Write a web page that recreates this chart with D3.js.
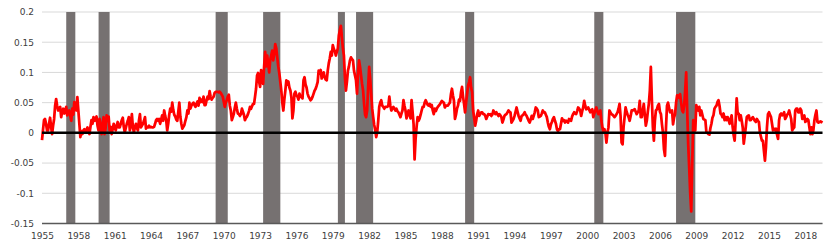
<!DOCTYPE html>
<html>
<head>
<meta charset="utf-8">
<script src="https://cdn.jsdelivr.net/npm/d3@7"></script>
<style>
  body { margin: 0; background: #fff; }
  text { font-family: "DejaVu Sans", Verdana, sans-serif; }
</style>
</head>
<body>
<div id="chart"></div>
<script>
// Monthly values, first point July 1955, last point December 2019
var infl1950s = [
  -.012, .005, .021, .023, .015, .004,
  .004, .015, .025, .010, -.002, .012, .023, .045, .056, .045, .037, .040,
  .043, .026, .035, .040, .032, .038, .043, .029, .033, .037, .028, .020,
  .040, .030, .051, .044, .037, .059, .037, .015, -.007, .003, -.002, .004,
  .006, .001, .005, .009, .003, -.002, .010, .021, .015, .026, .020, .023
];
var infl1960s = [
  .027, .012, .004, .023, .010, -.002, .015, .026, -.002, .008, .029, .020,
  .027, .004, .010, -.002, .006, .015, .010, .004, .012, .018, .009, .009,
  .015, .021, .025, .010, .001, .008, .015, .020, .026, .004, .012, .031,
  .010, .001, .009, .015, .008, .004, .020, .031, .009, .012, .015, .020,
  .026, .007, .010, .009, .012, .009, .010, .009, .009, .010, .015, .021,
  .023, .020, .023, .015, .022, .029, .020, .037, .028, .021, .004, .015,
  .030, .040, .035, .050, .038, .030, .027, .022, .020, .035, .050, .027,
  .015, .007, .010, .013, .020, .026, .037, .032, .050, .040, .045, .048,
  .050, .046, .043, .048, .052, .045, .058, .051, .055, .051, .060, .046,
  .046, .054, .060, .056, .069, .060, .055, .058, .060, .066, .068, .068
];
var infl1970s = [
  .068, .067, .068, .066, .063, .060, .052, .043, .050, .054, .060, .063,
  .045, .037, .021, .026, .032, .042, .050, .040, .032, .031, .028, .031,
  .040, .035, .030, .021, .025, .027, .031, .036, .043, .040, .044, .048,
  .048, .060, .073, .095, .099, .085, .076, .104, .090, .081, .110, .134,
  .110, .128, .115, .100, .120, .128, .136, .120, .130, .147, .140, .125,
  .110, .099, .085, .070, .050, .037, .055, .070, .087, .080, .085, .075,
  .070, .059, .024, .037, .065, .068, .062, .060, .055, .065, .060, .059,
  .057, .087, .092, .080, .075, .065, .060, .057, .054, .056, .060, .065,
  .070, .073, .078, .084, .103, .098, .104, .090, .095, .100, .092, .088,
  .087, .103, .115, .123, .134, .128, .145, .139, .135, .128, .134, .140
];
var infl1980s = [
  .161, .170, .177, .158, .140, .128, .092, .070, .085, .103, .110, .120,
  .125, .122, .120, .103, .095, .087, .065, .100, .120, .109, .095, .081,
  .070, .048, .030, .026, .037, .075, .109, .090, .065, .040, .026, .013,
  .005, -.007, .001, .020, .043, .050, .054, .045, .043, .040, .043, .043,
  .043, .045, .060, .045, .037, .040, .043, .040, .037, .040, .036, .034,
  .030, .026, .032, .037, .054, .045, .037, .024, .030, .037, .030, .024,
  .054, .035, .015, -.044, -.010, .010, .026, .020, .024, .030, .037, .043,
  .043, .050, .054, .050, .046, .045, .048, .043, .046, .037, .031, .040,
  .036, .040, .043, .045, .047, .050, .053, .051, .050, .042, .045, .045,
  .045, .048, .050, .064, .073, .062, .053, .023, .030, .040, .045, .055
];
var infl1990s = [
  .053, .067, .076, .060, .048, .034, .050, .064, .078, .084, .092, .075,
  .067, .037, .025, .012, .020, .031, .037, .028, .031, .034, .034, .031,
  .031, .028, .023, .027, .031, .030, .031, .028, .030, .037, .034, .031,
  .034, .031, .028, .031, .029, .026, .017, .022, .028, .030, .031, .034,
  .037, .035, .034, .017, .020, .023, .028, .035, .042, .035, .028, .024,
  .020, .028, .029, .031, .034, .030, .028, .024, .020, .017, .022, .028,
  .023, .028, .034, .042, .040, .037, .026, .027, .028, .032, .037, .034,
  .034, .030, .026, .017, .010, .006, .014, .018, .023, .026, .020, .015,
  .006, .003, .006, .006, .015, .024, .020, .021, .017, .020, .019, .017,
  .023, .021, .020, .027, .031, .034, .032, .031, .036, .042, .040, .037
];
var infl2000s = [
  .028, .036, .042, .053, .045, .039, .041, .042, .038, .034, .037, .039,
  .026, .032, .037, .042, .036, .031, .034, .037, .020, .009, .003, .006,
  .000, -.016, .000, .009, .037, .034, .031, .030, .028, .026, .028, .031,
  .034, .040, .048, .028, -.016, -.019, .010, .026, .042, .035, .030, .026,
  .020, .028, .037, .037, .038, .039, .035, .031, .034, .037, .053, .026,
  .026, .037, .048, .030, .012, .020, .035, .048, .070, .109, .055, .010,
  -.013, .020, .037, .039, .045, .048, .035, .031, .014, .000, -.027, -.038,
  .009, .045, .050, .042, .034, .036, .037, .014, .025, .031, .050, .062,
  .062, .058, .064, .050, .037, .034, .045, .070, .100, .037, -.019, -.058,
  -.100, -.130, -.050, .021, .012, .004, .046, .040, .037, .043, .029, .037
];
var infl2010s = [
  .030, .023, .022, .021, .001, .000, -.002, -.003, .008, .015, .025, .029,
  .040, .043, .045, .051, .054, .045, .032, .030, .026, .032, .021, .026,
  .021, .026, .022, .015, .022, .029, .010, -.004, -.013, .020, .057, .032,
  .032, .021, .029, .020, .009, -.018, -.005, .009, .026, .028, .029, .021,
  .021, .024, .026, .023, .020, .018, .023, .020, .018, .001, -.006, -.013,
  -.013, -.030, -.046, -.024, .009, .031, .034, .030, .026, .015, .004, .007,
  .004, .007, -.003, -.010, .021, .030, .032, .029, .031, .034, .023, .026,
  .030, .032, .037, .030, .023, .004, .007, .009, .037, .040, .040, .034,
  .034, .040, .037, .023, .026, .029, .018, .020, .023, .021, .009, -.002,
  .009, -.002, .005, .021, .030, .037, .018, .017, .018, .019, .018, .017
];

// Recessions (decimal years)
var recStart = [1957.5, 1960.17, 1969.83, 1973.75, 1979.92, 1981.42, 1990.42, 2001.08, 2007.83];
var recEnd   = [1958.25, 1961.08, 1970.83, 1975.17, 1980.5, 1982.83, 1991.17, 2001.83, 2009.42];

var xYears = [1955, 1958, 1961, 1964, 1967, 1970, 1973, 1976, 1979, 1982, 1985, 1988,
              1991, 1994, 1997, 2000, 2003, 2006, 2009, 2012, 2015, 2018];
var yTicks = [-0.15, -0.1, -0.05, 0, 0.05, 0.1, 0.15, 0.2];

var startYear = 1955.5;
var values = [].concat(infl1950s, infl1960s, infl1970s, infl1980s, infl1990s, infl2000s, infl2010s);
var data = values.map(function(v, i) { return {t: startYear + i / 12, v: v}; });

var width = 830, height = 251;
var plotL = 42, plotR = 822.5, plotT = 12, plotB = 223.5;

var svg = d3.select("#chart")
  .append("svg")
    .attr("width", width)
    .attr("height", height);

var x = d3.scaleLinear()
  .domain([startYear, data[data.length - 1].t])
  .range([plotL, plotR]);

var y = d3.scaleLinear()
  .domain([-0.15, 0.2])
  .range([plotB, plotT]);

// Gridlines
svg.append("g")
  .selectAll("line")
  .data(yTicks)
  .enter().append("line")
    .attr("x1", plotL).attr("x2", plotR)
    .attr("y1", function(d) { return y(d); })
    .attr("y2", function(d) { return y(d); })
    .attr("stroke", "#d9d9d9")
    .attr("stroke-width", 1);

// Recession bars
svg.append("g")
  .selectAll("rect")
  .data(recStart)
  .enter().append("rect")
    .attr("x", function(d) { return x(d); })
    .attr("width", function(d, i) { return x(recEnd[i]) - x(d); })
    .attr("y", plotT)
    .attr("height", plotB - plotT)
    .attr("fill", "#767171");

// The series
var line = d3.line()
  .x(function(d) { return x(d.t); })
  .y(function(d) { return y(d.v); });

svg.append("path")
  .datum(data)
  .attr("fill", "none")
  .attr("stroke", "#ff0000")
  .attr("stroke-width", 2.75)
  .attr("stroke-linejoin", "round")
  .attr("d", line);

// Zero line
svg.append("line")
  .attr("x1", plotL).attr("x2", plotR)
  .attr("y1", y(0)).attr("y2", y(0))
  .attr("stroke", "#000")
  .attr("stroke-width", 2.5);

// Bottom line
svg.append("line")
  .attr("x1", plotL).attr("x2", plotR)
  .attr("y1", plotB).attr("y2", plotB)
  .attr("stroke", "#595959")
  .attr("stroke-width", 1.5);

// Y axis
var yAxis = svg.append("g")
  .attr("transform", "translate(" + plotL + ",0)")
  .call(d3.axisLeft(y).tickValues(yTicks).tickSize(0).tickPadding(8)
    .tickFormat(function(d) { return String(d); }));
yAxis.select(".domain").remove();

// X axis, labels sit at mid-year
var xAxis = svg.append("g")
  .attr("transform", "translate(0," + plotB + ")")
  .call(d3.axisBottom(x).tickValues(xYears.map(function(d) { return d + 0.5; }))
    .tickSize(0).tickPadding(9)
    .tickFormat(function(d) { return String(Math.floor(d)); }));
xAxis.select(".domain").remove();

svg.selectAll(".tick text")
  .attr("font-family", "DejaVu Sans, Verdana, sans-serif")
  .attr("font-size", "9px")
  .attr("fill", "#404040");
</script>
</body>
</html>
